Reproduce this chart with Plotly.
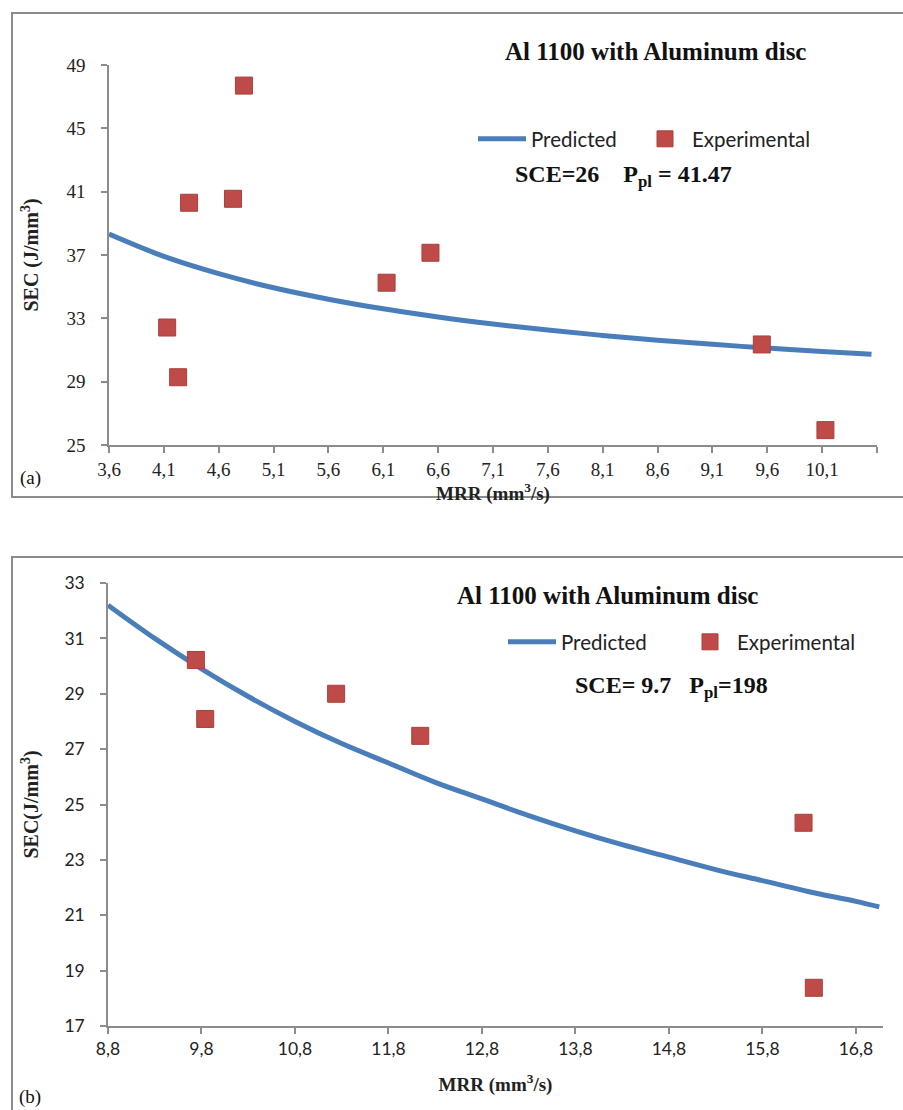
import plotly.graph_objects as go

# ---------------- Data (a) ----------------
a_pred_x = [3.6, 4.1, 4.6, 5.1, 5.6, 6.1, 6.6, 7.1, 7.6, 8.1, 8.6, 9.1, 9.6, 10.1, 10.55]
a_pred_y = [38.32, 36.91, 35.82, 34.93, 34.21, 33.60, 33.08, 32.64, 32.26, 31.92, 31.62, 31.36, 31.12, 30.91, 30.73]
a_exp_x = [4.83, 4.33, 4.73, 4.13, 4.23, 6.13, 6.53, 9.55, 10.13]
a_exp_y = [47.7, 40.3, 40.55, 32.42, 29.28, 35.25, 37.14, 31.35, 25.94]
a_xticks = [3.6, 4.1, 4.6, 5.1, 5.6, 6.1, 6.6, 7.1, 7.6, 8.1, 8.6, 9.1, 9.6, 10.1, 10.6]
a_xlabels = ["3,6", "4,1", "4,6", "5,1", "5,6", "6,1", "6,6", "7,1", "7,6", "8,1", "8,6", "9,1", "9,6", "10,1", ""]
a_yticks = [25, 29, 33, 37, 41, 45, 49]

# ---------------- Data (b) ----------------
b_pred_x = [8.8, 9.3, 9.8, 10.3, 10.8, 11.3, 11.8, 12.3, 12.8, 13.3, 13.8, 14.3, 14.8, 15.3, 15.8, 16.3, 16.8, 17.05]
b_pred_y = [32.2, 31.0, 29.9, 28.9, 28.0, 27.2, 26.5, 25.8, 25.2, 24.6, 24.05, 23.55, 23.1, 22.65, 22.25, 21.85, 21.5, 21.3]
b_exp_x = [9.74, 9.84, 11.24, 12.14, 16.24, 16.35]
b_exp_y = [30.22, 28.09, 29.0, 27.48, 24.34, 18.38]
b_xticks = [8.8, 9.8, 10.8, 11.8, 12.8, 13.8, 14.8, 15.8, 16.8]
b_xlabels = ["8,8", "9,8", "10,8", "11,8", "12,8", "13,8", "14,8", "15,8", "16,8"]
b_yticks = [17, 19, 21, 23, 25, 27, 29, 31, 33]

W, H = 903, 1110
def px(x):
    return x / W
def py(y):
    return 1 - y / H

BLUE = "#4a7ebb"
RED = "#be4b48"
GRAY = "#8c8c8c"
SERIF = "Liberation Serif, Times New Roman, serif"
SANS = "Lato, Open Sans, sans-serif"

fig = go.Figure()

line_style = dict(color=BLUE, width=5, shape="spline")
marker_style = dict(symbol="square", size=17, color=RED, line=dict(color="#a8403d", width=1))

fig.add_trace(go.Scatter(x=a_pred_x, y=a_pred_y, mode="lines", name="Predicted",
                         line=line_style, xaxis="x", yaxis="y", legend="legend"))
fig.add_trace(go.Scatter(x=a_exp_x, y=a_exp_y, mode="markers", name="Experimental",
                         marker=marker_style, xaxis="x", yaxis="y", legend="legend3"))
fig.add_trace(go.Scatter(x=b_pred_x, y=b_pred_y, mode="lines", name="Predicted",
                         line=line_style, xaxis="x2", yaxis="y2", legend="legend2"))
fig.add_trace(go.Scatter(x=b_exp_x, y=b_exp_y, mode="markers", name="Experimental",
                         marker=marker_style, xaxis="x2", yaxis="y2", legend="legend4"))

axis_common = dict(showline=True, linecolor=GRAY, linewidth=1.5, ticks="outside",
                   ticklen=6, tickcolor=GRAY, tickwidth=1.5, showgrid=False,
                   zeroline=False, automargin=False)

legend_font = dict(family=SANS, size=20.5, color="#222")
def leg(x, y, iw):
    return dict(orientation="h", x=px(x), y=py(y), xanchor="left", yanchor="middle",
                bgcolor="rgba(0,0,0,0)", itemwidth=iw, font=legend_font)

fig.update_layout(
    width=W, height=H,
    margin=dict(l=0, r=0, t=0, b=0, autoexpand=False),
    paper_bgcolor="white", plot_bgcolor="white",
    showlegend=True,
    xaxis=dict(domain=[px(109), px(877)], range=[3.6, 10.6], anchor="y",
               tickvals=a_xticks, ticktext=a_xlabels,
               tickfont=dict(family=SERIF, size=19, color="#222"),
               title=dict(text="<b>MRR (mm<sup>3</sup>/s)</b>", standoff=2,
                          font=dict(family=SERIF, size=19, color="#222")),
               **axis_common),
    yaxis=dict(domain=[py(445), py(65)], range=[25, 49], anchor="x",
               tickvals=a_yticks, ticklabelstandoff=12,
               tickfont=dict(family=SERIF, size=19, color="#222"),
               title=dict(text="<b>SEC (J/mm<sup>3</sup>)</b>", standoff=22,
                          font=dict(family=SERIF, size=20, color="#222")),
               **axis_common),
    xaxis2=dict(domain=[px(108), px(883)], range=[8.8, 17.09], anchor="y2",
                tickvals=b_xticks, ticktext=b_xlabels,
                tickfont=dict(family=SANS, size=17.5, color="#222"),
                title=dict(text="<b>MRR (mm<sup>3</sup>/s)</b>", standoff=20,
                           font=dict(family=SERIF, size=19, color="#222")),
                **axis_common),
    yaxis2=dict(domain=[py(1026), py(583)], range=[17, 33], anchor="x2",
                tickvals=b_yticks, ticklabelstandoff=12,
                tickfont=dict(family=SANS, size=17.5, color="#222"),
                title=dict(text="<b>SEC(J/mm<sup>3</sup>)</b>", standoff=20,
                           font=dict(family=SERIF, size=20, color="#222")),
                **axis_common),
    legend=leg(473, 139, 48),
    legend3=leg(638, 139, 44),
    legend2=leg(503, 642, 48),
    legend4=leg(683, 642, 44),
)

# Panel borders
fig.add_shape(type="rect", xref="paper", yref="paper",
              x0=px(12), x1=px(906), y0=py(497), y1=py(13),
              line=dict(color=GRAY, width=2), layer="below")
fig.add_shape(type="rect", xref="paper", yref="paper",
              x0=px(12), x1=px(906), y0=py(1113), y1=py(557),
              line=dict(color=GRAY, width=2), layer="below")

NB = "&nbsp;"
ann = [
    dict(text="<b>Al 1100 with Aluminum disc</b>", x=px(655), y=py(52), size=25),
    dict(text="<b>SCE=26" + NB * 4 + "P<sub>pl</sub> = 41.47</b>", x=px(623), y=py(176), size=24),
    dict(text="(a)", x=px(30), y=py(478), size=19),
    dict(text="<b>Al 1100 with Aluminum disc</b>", x=px(607), y=py(595), size=25),
    dict(text="<b>SCE= 9.7" + NB * 3 + "P<sub>pl</sub>=198</b>", x=px(671), y=py(687), size=24),
    dict(text="(b)", x=px(30), y=py(1097), size=19),
]
for a in ann:
    fig.add_annotation(text=a["text"], x=a["x"], y=a["y"], xref="paper", yref="paper",
                       xanchor="center", yanchor="middle", showarrow=False,
                       font=dict(family=SERIF, size=a["size"], color="#111"))

fig.write_html("out.html")
